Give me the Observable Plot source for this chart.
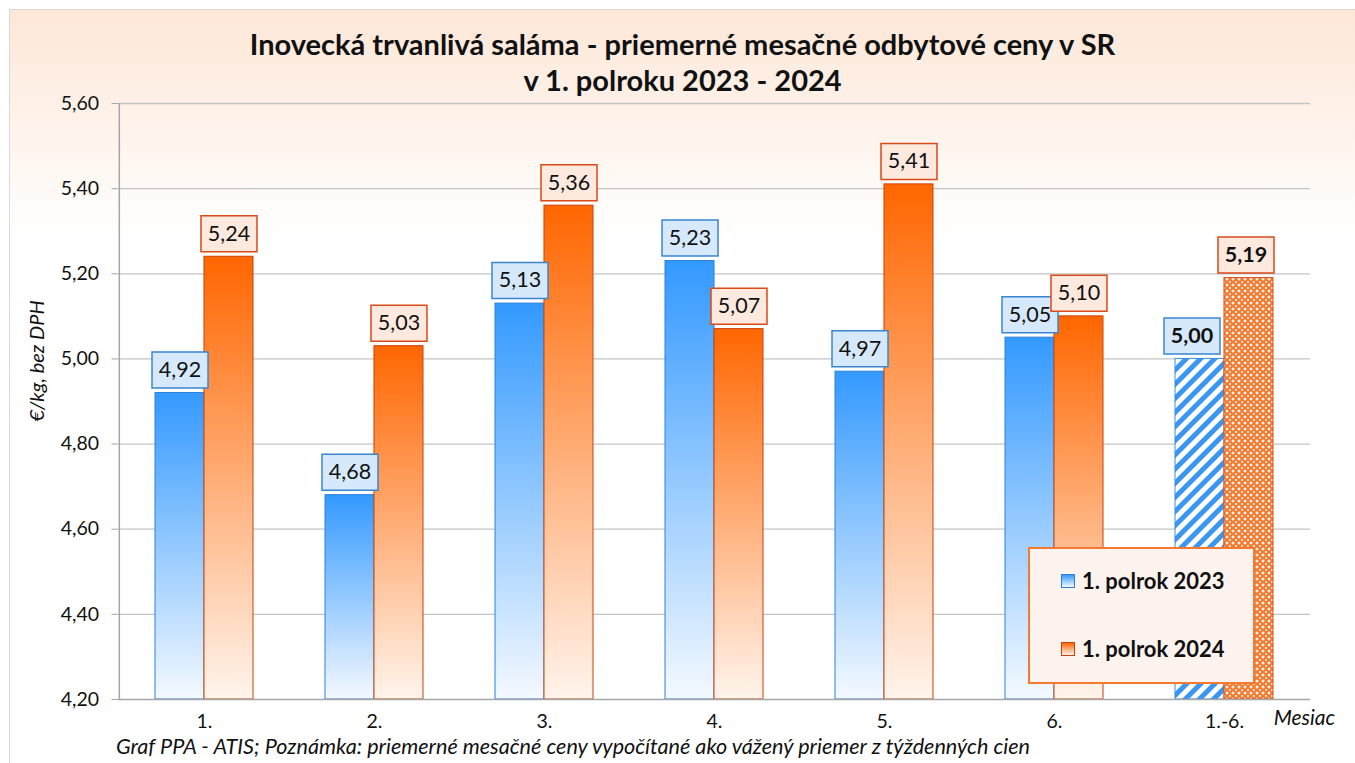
<!DOCTYPE html>
<html>
<head>
<meta charset="utf-8">
<script src="https://cdn.jsdelivr.net/npm/d3@7"></script>
<script src="https://cdn.jsdelivr.net/npm/@observablehq/plot@0.6"></script>
<style>
  body { margin: 0; background: #fff; }
  #chart { position: relative; width: 1355px; height: 763px; overflow: hidden; font-family: Lato, "Open Sans", sans-serif; }
  #bg { position: absolute; left: 9px; top: 9px; width: 1400px; height: 800px; border: 1px solid #d9d9d9;
        background: linear-gradient(#fde7d8 0px, #fef1e8 100px, #ffffff 230px); }
  #title { position: absolute; left: 0; top: 26px; width: 1365px; text-align: center; font-weight: bold;
           font-size: 29px; line-height: 36px; color: #111; }
  #ylabel { position: absolute; left: 36px; top: 361px; transform: translate(-50%, -50%) rotate(-90deg);
            font-style: italic; font-size: 20px; line-height: 24px; white-space: nowrap; color: #111; }
  #mesiac { position: absolute; right: 20px; top: 704px; font-style: italic; font-size: 21px; line-height: 26px; color: #111; }
  #caption { position: absolute; left: 116px; top: 733px; font-style: italic; font-size: 21.6px; line-height: 26px; color: #111; white-space: nowrap; }
  #legend { position: absolute; left: 1028px; top: 547px; width: 227px; height: 137px; box-sizing: border-box;
            background: #fdf3ee; border: 2px solid #f47a30; }
  .li { position: absolute; left: 31px; font-weight: bold; font-size: 22px; line-height: 26px; color: #111; display: flex; align-items: center; }
  .sw { width: 12px; height: 12px; margin-right: 7px; border: 1px solid; }
  #plot { position: absolute; left: 0; top: 0; }
</style>
</head>
<body>
<div id="chart">
  <div id="bg"></div>
  <div id="title"></div>
  <div id="plot"></div>
  <div id="ylabel"></div>
  <div id="mesiac"></div>
  <div id="caption"></div>
  <div id="legend"></div>
</div>
<script>
// ---- data ----
const titleLines = ["Inovecká trvanlivá saláma - priemerné mesačné odbytové ceny v SR", "v 1. polroku 2023 - 2024"];
const months = ["1.", "2.", "3.", "4.", "5.", "6.", "1.-6."];
const prices2023 = [4.92, 4.68, 5.13, 5.23, 4.97, 5.05, 5.00];
const prices2024 = [5.24, 5.03, 5.36, 5.07, 5.41, 5.10, 5.19];
const seriesNames = ["1. polrok 2023", "1. polrok 2024"];
const yTicks = [4.2, 4.4, 4.6, 4.8, 5.0, 5.2, 5.4, 5.6];
const yLabel = "€/kg, bez DPH";
const xLabel = "Mesiac";
const caption = "Graf PPA - ATIS; Poznámka: priemerné mesačné ceny vypočítané ako vážený priemer z týždenných cien";

// ---- tables ----
const rows23 = months.map((m, i) => ({month: m, value: prices2023[i]}));
const rows24 = months.map((m, i) => ({month: m, value: prices2024[i]}));
const monthly23 = rows23.slice(0, 6), summary23 = rows23.slice(6);
const monthly24 = rows24.slice(0, 6), summary24 = rows24.slice(6);
const fmt = v => d3.format(".2f")(v).replace(".", ",");

// ---- layout ----
const W = 1355, H = 763;
const mL = 117.5, mR = 45, mT = 103, mB = 64;
const step = (W - mL - mR) / months.length;
const pI = 0.425;
const bw = step * (1 - pI);
const half = bw / 2;       // width of one bar
const off = half / 2;      // offset of a bar centre from the band centre
const yMin = yTicks[0], yMax = yTicks[yTicks.length - 1];

const boxSymbol = {draw(ctx) { ctx.rect(-28, -18, 56, 36); }};
const boxDy = -23;
const labelSize = 21.5;

const blueFill = "#d6e9fc", blueStroke = "#3a85d0";
const orFill = "#fde9dd", orStroke = "#d84a1a";
const FONT = "Lato, 'Open Sans', sans-serif";

const plot = Plot.plot({
  width: W, height: H,
  marginLeft: mL, marginRight: mR, marginTop: mT, marginBottom: mB,
  style: {background: "transparent", fontFamily: FONT, color: "#111"},
  x: {type: "band", domain: months, paddingInner: pI, paddingOuter: pI / 2, label: null},
  y: {domain: [yMin, yMax], label: null},
  marks: [
    Plot.ruleY(yTicks.slice(1), {stroke: "#c4c4c4", strokeWidth: 1.3}),
    // bars 2023
    Plot.barY(monthly23, {x: "month", y1: yMin, y2: "value", insetRight: half, fill: "url(#gBlue)", stroke: "#2f80d8", strokeWidth: 1}),
    Plot.barY(summary23, {x: "month", y1: yMin, y2: "value", insetRight: half, fill: "url(#hBlue)", stroke: "#3a8ee0", strokeWidth: 1}),
    // bars 2024
    Plot.barY(monthly24, {x: "month", y1: yMin, y2: "value", insetLeft: half, fill: "url(#gOrange)", stroke: "#c8420a", strokeWidth: 1}),
    Plot.barY(summary24, {x: "month", y1: yMin, y2: "value", insetLeft: half, fill: "url(#hOrange)", stroke: "#d9501a", strokeWidth: 1}),
    // axes lines
    Plot.ruleY([yMin], {stroke: "#a6a6a6", strokeWidth: 1.5}),
    Plot.ruleX([months[0]], {dx: -step / 2, y1: yMin, y2: yMax, stroke: "#a6a6a6", strokeWidth: 1.5}),
    Plot.axisY(yTicks, {tickFormat: fmt, tickSize: 6, tickPadding: 13, fontSize: 19.5, stroke: "#a6a6a6", fill: "#111"}),
    Plot.axisX({tickSize: 0, tickPadding: 15, fontSize: 19.5, fill: "#111"}),
    // label boxes 2023
    Plot.dot(monthly23, {x: "month", y: "value", dx: -off, dy: boxDy, symbol: boxSymbol, r: 10, fill: blueFill, stroke: blueStroke, strokeWidth: 1.5}),
    Plot.text(monthly23, {x: "month", y: "value", dx: -off, dy: boxDy, text: d => fmt(d.value), fontSize: labelSize, fill: "#111"}),
    Plot.dot(summary23, {x: "month", y: "value", dx: -off - 8, dy: boxDy, symbol: boxSymbol, r: 10, fill: blueFill, stroke: blueStroke, strokeWidth: 1.5}),
    Plot.text(summary23, {x: "month", y: "value", dx: -off - 8, dy: boxDy, text: d => fmt(d.value), fontSize: labelSize, fontWeight: "bold", fill: "#111"}),
    // label boxes 2024
    Plot.dot(monthly24, {x: "month", y: "value", dx: off, dy: boxDy, symbol: boxSymbol, r: 10, fill: orFill, stroke: orStroke, strokeWidth: 1.5}),
    Plot.text(monthly24, {x: "month", y: "value", dx: off, dy: boxDy, text: d => fmt(d.value), fontSize: labelSize, fill: "#111"}),
    Plot.dot(summary24, {x: "month", y: "value", dx: off - 3, dy: boxDy, symbol: boxSymbol, r: 10, fill: orFill, stroke: orStroke, strokeWidth: 1.5}),
    Plot.text(summary24, {x: "month", y: "value", dx: off - 3, dy: boxDy, text: d => fmt(d.value), fontSize: labelSize, fontWeight: "bold", fill: "#111"})
  ]
});

// defs: gradients and patterns
const defs = d3.select(plot).insert("defs", ":first-child");
function grad(id, top, bottom) {
  const g = defs.append("linearGradient").attr("id", id).attr("x1", 0).attr("y1", 0).attr("x2", 0).attr("y2", 1);
  g.append("stop").attr("offset", 0).attr("stop-color", top);
  g.append("stop").attr("offset", 1).attr("stop-color", bottom);
}
grad("gBlue", "#3399ff", "#f4f9ff");
grad("gOrange", "#ff6600", "#fff4ec");
const hb = defs.append("pattern").attr("id", "hBlue").attr("patternUnits", "userSpaceOnUse")
  .attr("width", 10).attr("height", 10).attr("patternTransform", "rotate(45)");
hb.append("rect").attr("width", 10).attr("height", 10).attr("fill", "#ffffff");
hb.append("rect").attr("width", 5).attr("height", 10).attr("fill", "#3a96f0");
const ho = defs.append("pattern").attr("id", "hOrange").attr("patternUnits", "userSpaceOnUse")
  .attr("width", 6).attr("height", 6);
ho.append("rect").attr("width", 6).attr("height", 6).attr("fill", "#f47a30");
ho.append("path").attr("d", "M3,1.2L4.8,3L3,4.8L1.2,3Z").attr("fill", "#fff3ea");
ho.append("path").attr("d", "M0,0h1v1h-1zM5,0h1v1h-1zM0,5h1v1h-1zM5,5h1v1h-1z").attr("fill", "#fde0cc");

document.getElementById("plot").appendChild(plot);

// texts
document.getElementById("title").innerHTML = titleLines.map(t => `<div>${t}</div>`).join("");
document.getElementById("ylabel").textContent = yLabel;
document.getElementById("mesiac").textContent = xLabel;
document.getElementById("caption").textContent = caption;
const leg = document.getElementById("legend");
const swStyles = [
  "background:linear-gradient(#3399ff,#f4f9ff);border-color:#2f80d8;",
  "background:linear-gradient(#ff6600,#fff4ec);border-color:#c8420a;"
];
const legTops = [19, 87];
seriesNames.forEach((name, i) => {
  const el = document.createElement("div");
  el.className = "li";
  el.style.top = legTops[i] + "px";
  el.innerHTML = `<span class="sw" style="${swStyles[i]}"></span><span>${name}</span>`;
  leg.appendChild(el);
});
</script>
</body>
</html>
